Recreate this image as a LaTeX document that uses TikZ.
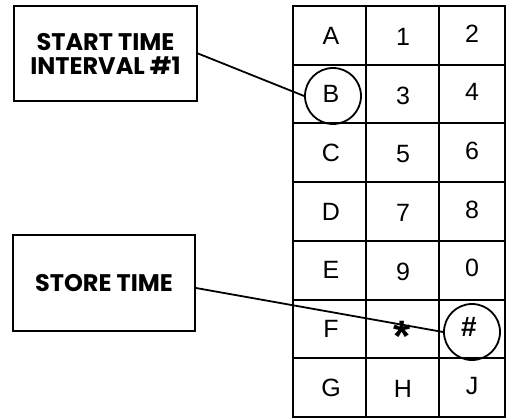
\documentclass[tikz,border=0pt]{standalone}
\usepackage{fontspec}
\setmainfont{Liberation Sans}
\newfontfamily\boxfont{Poppins}
\begin{document}
\begin{tikzpicture}[x=1pt,y=-1pt,
  lbl/.style={draw,line width=2pt,inner sep=0pt,font=\boxfont\bfseries\fontsize{24}{24}\selectfont,align=center},
  cell/.style={inner sep=0pt,font=\fontsize{25}{25}\selectfont},
  ring/.style={draw,circle,line width=1.8pt,minimum size=56pt,inner sep=0pt},
  conn/.style={line width=1.8pt},
  gridline/.style={line width=2pt}]
\useasboundingbox (0,0) rectangle (506,418);
% label boxes
\node[lbl,minimum width=183pt,minimum height=95pt] (start) at (105.5,53.5) {START TIME\\INTERVAL \#1};
\node[lbl,minimum width=182pt,minimum height=96pt] (store) at (104,283) {STORE TIME};
% grid
\draw[gridline] (293,6) rectangle (504.5,417);
\foreach \x in {366,439} \draw[gridline] (\x,6) -- (\x,417);
\foreach \k in {1,...,6} \draw[gridline] (293,6+58.714*\k) -- (504.5,6+58.714*\k);
% cell labels
\foreach \r/\a/\c [count=\i from 0] in {A/1/2,B/3/4,C/5/6,D/7/8,E/9/0,G/H/J}{
  \ifnum\i=5 \def\row{6}\else \def\row{\i}\fi
  \node[cell] (c\row a) at (331,35.4+58.714*\row) {\r};
  \node[cell] (c\row b) at (403,37+58.714*\row) {\a};
  \node[cell] (c\row c) at (472,33.4+58.714*\row) {\c};
}
\node[cell] (c5a) at (331,329) {F};
\node[cell,font=\bfseries\fontsize{44}{44}\selectfont] (c5b) at (402,336) {*};
\node[cell,font=\bfseries\fontsize{28}{28}\selectfont] (c5c) at (469,327) {\#};
% circles
\node[ring] (ringB) at (333,96) {};
\node[ring] (ringH) at (472,332) {};
% connectors
\draw[conn] (start.east) -- (ringB.west);
\draw[conn] ([yshift=-5pt]store.east) -- (ringH.west);
\end{tikzpicture}
\end{document}
